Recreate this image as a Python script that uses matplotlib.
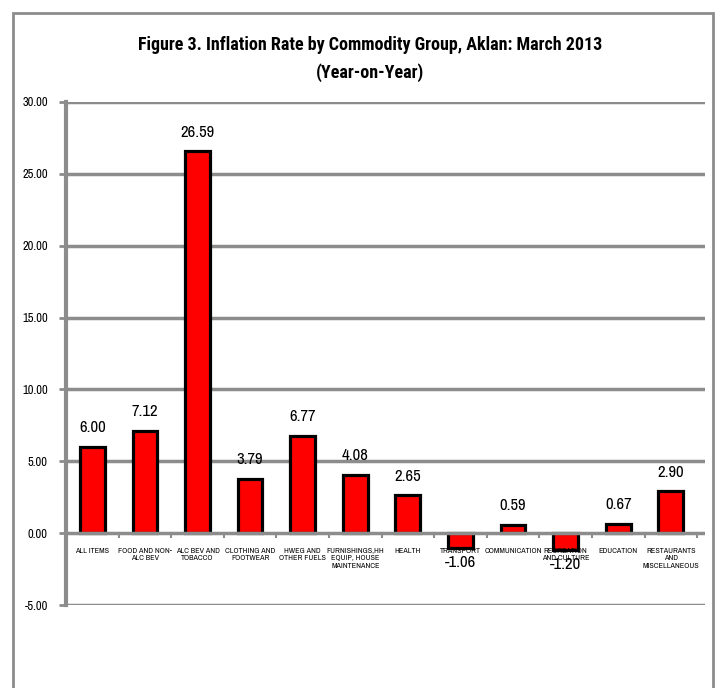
import matplotlib
matplotlib.use("Agg")
import matplotlib.pyplot as plt
from matplotlib.patches import Rectangle

plt.rcParams['font.family'] = ['Archivo Narrow', 'Liberation Sans', 'DejaVu Sans']

categories = ["ALL ITEMS", "FOOD AND NON-\nALC BEV", "ALC BEV AND\nTOBACCO", "CLOTHING AND\nFOOTWEAR",
              "HWEG AND\nOTHER FUELS", "FURNISHINGS,HH\nEQUIP, HOUSE\nMAINTENANCE", "HEALTH",
              "TRANSPORT", "COMMUNICATION", "RECREATION\nAND CULTURE", "EDUCATION",
              "RESTAURANTS\nAND\nMISCELLANEOUS"]
values = [6.00, 7.12, 26.59, 3.79, 6.77, 4.08, 2.65, -1.06, 0.59, -1.20, 0.67, 2.90]
yticks = [-5, 0, 5, 10, 15, 20, 25, 30]

fig = plt.figure(figsize=(7.22, 6.88), dpi=100)
fig.patches.append(Rectangle((13/722, -0.05), 700/722, 1.05 - 13/688, transform=fig.transFigure,
                             fill=False, edgecolor="#8c8c8c", linewidth=2))
ax = fig.add_axes([66/722, 83/688, 639/722, 503/688])

grid_c = "#8c8c8c"
x = list(range(len(categories)))
ax.bar(x, values, width=0.47, color="#ff0000", edgecolor="black", linewidth=2.3, zorder=3)
ax.set_xlim(-0.5, 11.65)
ax.set_ylim(-5, 30)
ax.set_yticks(yticks)
ax.set_yticklabels([f"{v:.2f}" for v in yticks], fontsize=9)
for v in yticks:
    if v != 0:
        ax.axhline(v, color=grid_c, linewidth=2.5, zorder=1)
ax.axhline(0, color=grid_c, linewidth=2.5, zorder=4)

for s in ["top", "right", "bottom"]:
    ax.spines[s].set_visible(False)
ax.spines["left"].set_color(grid_c)
ax.spines["left"].set_linewidth(3)
ax.tick_params(axis="y", length=5, width=2, color=grid_c, pad=8)

# category boundary tick marks on zero line
for b in range(len(categories) + 1):
    ax.plot([b - 0.5, b - 0.5], [0, -0.25], color=grid_c, linewidth=1.5, zorder=4, clip_on=False)
ax.set_xticks([])

for xi, cat in zip(x, categories):
    ax.text(xi, -1.0, cat, ha="center", va="top", fontsize=5.8, linespacing=1.35)

for xi, v in zip(x, values):
    if v >= 0:
        ax.text(xi, v + 0.8, f"{v:.2f}", ha="center", va="bottom", fontsize=12)
    else:
        ax.text(xi, v - 0.45, f"{v:.2f}", ha="center", va="top", fontsize=12)

title_font = ['Roboto Condensed', 'Archivo Narrow', 'DejaVu Sans']
fig.text(370/722, 1 - 45/688, "Figure 3. Inflation Rate by Commodity Group, Aklan: March 2013",
         ha="center", va="center", fontsize=13, fontweight="bold", family=title_font)
fig.text(370/722, 1 - 73/688, "(Year-on-Year)", ha="center", va="center", fontsize=13,
         fontweight="bold", family=title_font)

fig.savefig("out.png", dpi=100)
